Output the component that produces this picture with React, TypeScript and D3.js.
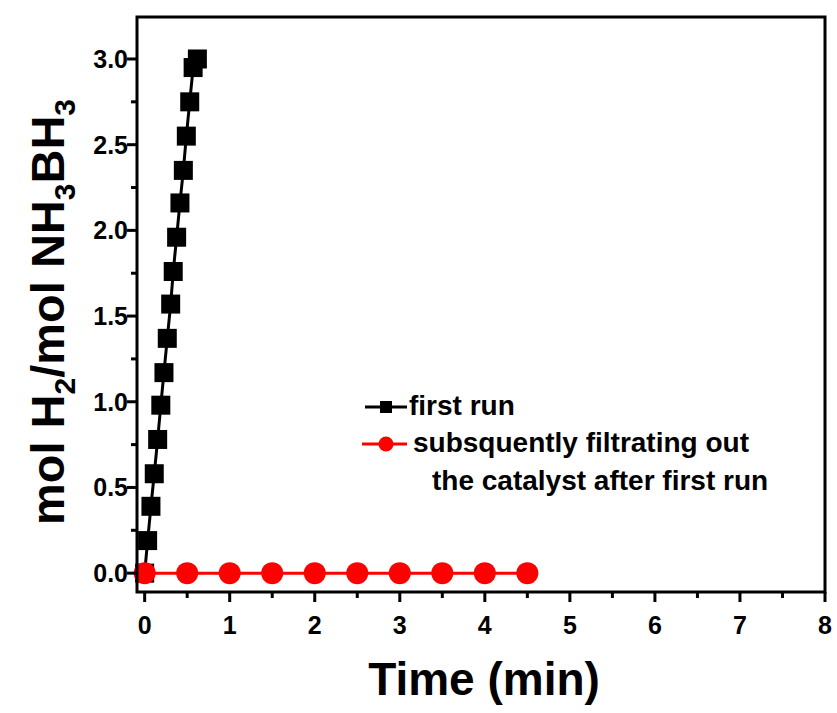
import React from "react";
import * as d3 from "d3";

const firstRunTime = [0, 0.035, 0.074, 0.113, 0.153, 0.19, 0.227, 0.266, 0.306, 0.336, 0.376, 0.415, 0.455, 0.49, 0.53, 0.57, 0.62];
const firstRunH2 = [0, 0.19, 0.39, 0.58, 0.78, 0.98, 1.17, 1.37, 1.57, 1.76, 1.96, 2.16, 2.35, 2.55, 2.75, 2.95, 3.0];
const filteredTime = [0, 0.5, 1, 1.5, 2, 2.5, 3, 3.5, 4, 4.5];
const filteredH2 = [0, 0, 0, 0, 0, 0, 0, 0, 0, 0];
const xMajorTicks = [0, 1, 2, 3, 4, 5, 6, 7, 8];
const xMinorTicks = [0.5, 1.5, 2.5, 3.5, 4.5, 5.5, 6.5, 7.5];
const yMajorTicks = [0, 0.5, 1.0, 1.5, 2.0, 2.5, 3.0];
const yMinorTicks = [0.25, 0.75, 1.25, 1.75, 2.25, 2.75];
const legendLabels = ["first run", "subsquently filtrating out", "the catalyst after first run"];

const W = 837;
const H = 713;
const L = 137, R = 825, T = 17, B = 592;
const FONT = "'Liberation Sans', Arial, sans-serif";

export default function App() {
  const x = d3.scaleLinear().domain([-0.09, 8]).range([L, R]);
  const y = d3.scaleLinear().domain([-0.11, 3.245]).range([B, T]);

  const black = firstRunTime.map((t, i) => [t, firstRunH2[i]] as [number, number]);
  const red = filteredTime.map((t, i) => [t, filteredH2[i]] as [number, number]);
  const line = d3.line<[number, number]>().x(d => x(d[0])).y(d => y(d[1]));

  const sq = 19;
  return (
    <svg width={W} height={H} style={{ position: "absolute", left: 0, top: 0, background: "#fff" }} fontFamily={FONT}>
      <rect x={0} y={0} width={W} height={H} fill="#fff" />
      <path d={line(red) || ""} fill="none" stroke="#ff0000" strokeWidth={3} />
      <path d={line(black) || ""} fill="none" stroke="#000" strokeWidth={3} />
      {black.map((d, i) => (
        <rect key={"s" + i} x={x(d[0]) - sq / 2} y={y(d[1]) - sq / 2} width={sq} height={sq} fill="#000" />
      ))}
      {red.map((d, i) => (
        <circle key={"c" + i} cx={x(d[0])} cy={y(d[1])} r={11} fill="#ff0000" />
      ))}
      <rect x={L} y={T} width={R - L} height={B - T} fill="none" stroke="#000" strokeWidth={3} />
      {xMajorTicks.map(t => (
        <g key={"xt" + t}>
          <line x1={x(t)} x2={x(t)} y1={B} y2={B + 10} stroke="#000" strokeWidth={3} />
          <text x={x(t)} y={634} textAnchor="middle" fontSize={25} fontWeight="bold">{t}</text>
        </g>
      ))}
      {xMinorTicks.map(t => (
        <line key={"xm" + t} x1={x(t)} x2={x(t)} y1={B} y2={B + 6} stroke="#000" strokeWidth={3} />
      ))}
      {yMajorTicks.map(t => (
        <g key={"yt" + t}>
          <line x1={L - 10} x2={L} y1={y(t)} y2={y(t)} stroke="#000" strokeWidth={3} />
          <text x={128} y={y(t)} dy="0.36em" textAnchor="end" fontSize={25} fontWeight="bold">{t.toFixed(1)}</text>
        </g>
      ))}
      {yMinorTicks.map(t => (
        <line key={"ym" + t} x1={L - 6} x2={L} y1={y(t)} y2={y(t)} stroke="#000" strokeWidth={3} />
      ))}
      <text x={(L + R) / 2 + 3} y={695} textAnchor="middle" fontSize={46} fontWeight="bold">Time (min)</text>
      <text transform={`translate(64, 312) rotate(-90)`} textAnchor="middle" fontSize={47} fontWeight="bold">
        mol H<tspan fontSize={30} dy={11}>2</tspan><tspan dy={-11}>/mol NH</tspan><tspan fontSize={30} dy={11}>3</tspan><tspan dy={-11}>BH</tspan><tspan fontSize={30} dy={11}>3</tspan>
      </text>
      <line x1={365} x2={407} y1={407} y2={407} stroke="#000" strokeWidth={3} />
      <rect x={380} y={401} width={12} height={12} fill="#000" />
      <text x={409} y={405} dy="0.36em" fontSize={28} fontWeight="bold">{legendLabels[0]}</text>
      <line x1={362} x2={407} y1={444} y2={444} stroke="#ff0000" strokeWidth={3} />
      <circle cx={386} cy={444} r={7.5} fill="#ff0000" />
      <text x={413} y={442} dy="0.36em" fontSize={28} fontWeight="bold">{legendLabels[1]}</text>
      <text x={432} y={480} dy="0.36em" fontSize={28} fontWeight="bold">{legendLabels[2]}</text>
    </svg>
  );
}
